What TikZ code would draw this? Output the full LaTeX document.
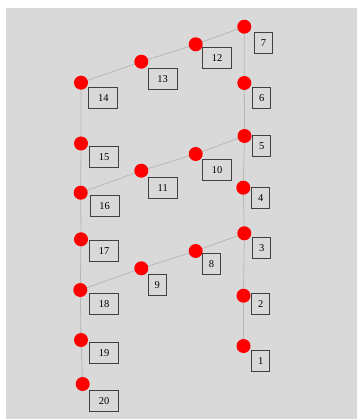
\documentclass[tikz,border=0pt]{standalone}
\usepackage{fontspec}
\setmainfont{Liberation Serif}
\usetikzlibrary{backgrounds}
\begin{document}
\begin{tikzpicture}[x=1pt,y=-1pt,
  dot/.style={circle,fill=red,draw=none,minimum size=14pt,inner sep=0pt},
  edge/.style={draw=black!28,line width=0.8pt},
  labA/.style={draw=black!75,line width=1pt,anchor=north west,minimum width=18pt,minimum height=21pt,inner sep=0pt,font=\fontsize{10.5}{12}\selectfont},
  labB/.style={labA,minimum width=29pt}]
\useasboundingbox (0,0) rectangle (357,419);
% dots
\node[dot] (n1) at (243.5,346) {};
\node[dot] (n2) at (243.5,295.7) {};
\node[dot] (n3) at (244.3,233.3) {};
\node[dot] (n4) at (243.3,187.7) {};
\node[dot] (n5) at (244.5,136) {};
\node[dot] (n6) at (244.3,83) {};
\node[dot] (n7) at (244.3,26.7) {};
\node[dot] (n8) at (195.7,251) {};
\node[dot] (n9) at (141.3,268.3) {};
\node[dot] (n10) at (195.7,154) {};
\node[dot] (n11) at (141.3,170.7) {};
\node[dot] (n12) at (195.7,44.3) {};
\node[dot] (n13) at (141.3,61.7) {};
\node[dot] (n14) at (81,82.7) {};
\node[dot] (n15) at (81,143.5) {};
\node[dot] (n16) at (80.7,192.7) {};
\node[dot] (n17) at (81,239.3) {};
\node[dot] (n18) at (80.3,290) {};
\node[dot] (n19) at (81,340) {};
\node[dot] (n20) at (82.7,384) {};
% background and edges
\begin{pgfonlayer}{background}
\fill[white] (0,0) rectangle (357,419);
\fill[black!15] (6,8) rectangle (357,419);
\draw[edge] (n1.center) -- (n2.center) -- (n3.center) -- (n4.center) -- (n5.center) -- (n6.center) -- (n7.center);
\draw[edge] (n7.center) -- (n12.center) -- (n13.center) -- (n14.center);
\draw[edge] (n14.center) -- (n15.center) -- (n16.center) -- (n17.center) -- (n18.center) -- (n19.center) -- (n20.center);
\draw[edge] (n5.center) -- (n10.center) -- (n11.center) -- (n16.center);
\draw[edge] (n3.center) -- (n8.center) -- (n9.center) -- (n18.center);
\end{pgfonlayer}
% labels
\node[labA] (l1) at (251.3,350) {1};
\node[labA] (l2) at (251.3,293.3) {2};
\node[labA] (l3) at (252.3,236.7) {3};
\node[labA] (l4) at (251.3,187.3) {4};
\node[labA] (l5) at (252.3,135.5) {5};
\node[labA] (l6) at (252.3,87.3) {6};
\node[labA] (l7) at (254,32.3) {7};
\node[labA] (l8) at (202,252.7) {8};
\node[labA] (l9) at (147.7,274) {9};
\node[labB] (l10) at (202,159.3) {10};
\node[labB] (l11) at (147.7,177.3) {11};
\node[labB] (l12) at (202,46.7) {12};
\node[labB] (l13) at (147.7,68.3) {13};
\node[labB] (l14) at (88.3,87.3) {14};
\node[labB] (l15) at (89,146) {15};
\node[labB] (l16) at (89.7,195.3) {16};
\node[labB] (l17) at (89,240) {17};
\node[labB] (l18) at (89,293.3) {18};
\node[labB] (l19) at (89,341.7) {19};
\node[labB] (l20) at (89,390) {20};
\end{tikzpicture}
\end{document}
